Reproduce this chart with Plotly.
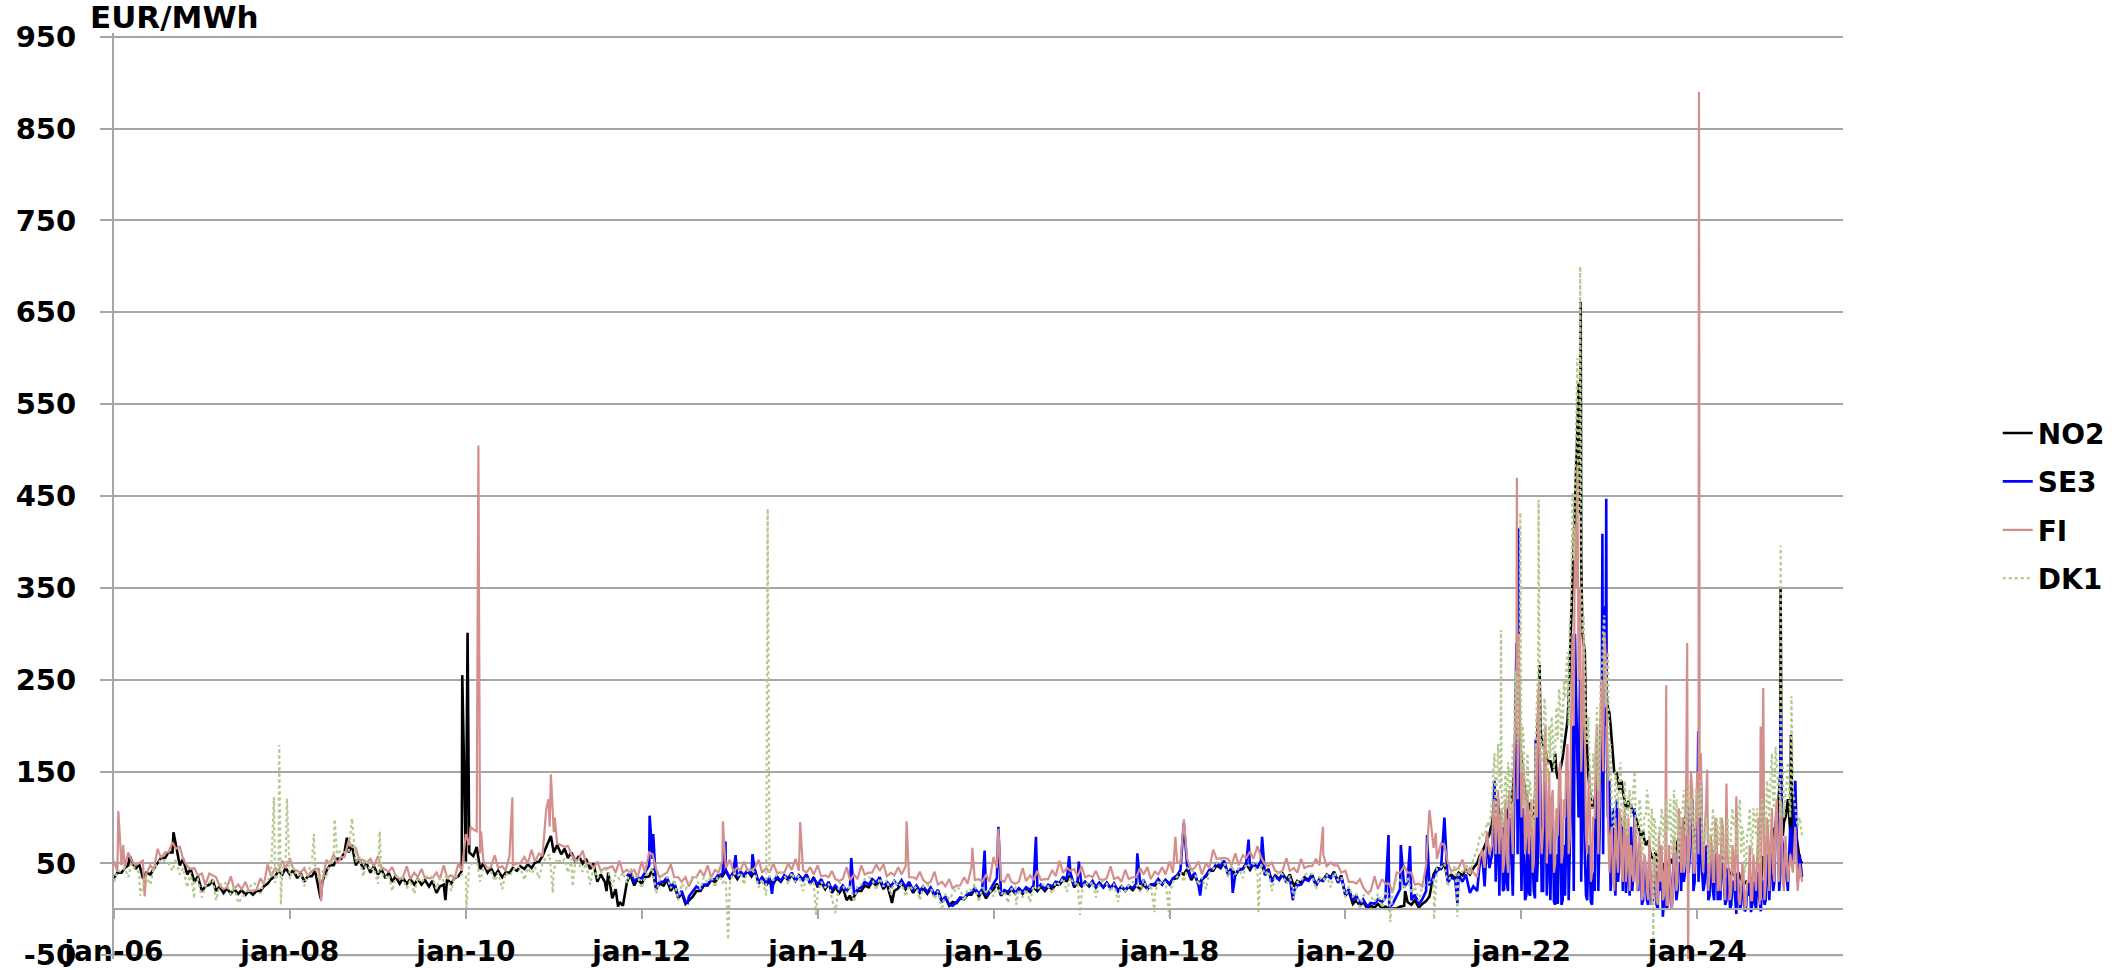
import pandas as pd
import plotly.graph_objects as go

# ---------------- data (EUR/MWh) ----------------
# mid-month levels, Jan 2006 .. Jun 2021
no2_monthly = [
    40, 45, 53, 50, 40, 44, 56, 62, 70, 55, 44, 36,
    25, 32, 25, 23, 22, 21, 20, 20, 25, 33, 42, 45,
    43, 40, 36, 42, 30, 48, 55, 62, 70, 55, 50, 47,
    44, 40, 36, 34, 33, 33, 32, 31, 25, 33, 34, 42,
    62, 68, 50, 45, 42, 40, 45, 47, 49, 51, 58, 78,
    70, 66, 62, 58, 55, 50, 38, 40, 22, 18, 38, 33,
    35, 44, 28, 32, 27, 18, 10, 20, 26, 32, 35, 42,
    40, 39, 42, 42, 35, 32, 34, 36, 38, 37, 38, 35,
    30, 28, 24, 24, 15, 20, 26, 30, 32, 28, 20, 29,
    28, 24, 23, 23, 21, 13, 8, 12, 16, 22, 20, 18,
    28, 20, 22, 22, 22, 24, 25, 25, 27, 32, 37, 30,
    30, 30, 29, 29, 28, 25, 25, 26, 27, 27, 31, 32,
    33, 40, 44, 38, 33, 42, 48, 51, 45, 43, 50, 49,
    52, 44, 37, 39, 38, 31, 35, 38, 33, 38, 41, 37,
    20, 10, 8, 4, 6, 3, 1, 3, 8, 10, 6, 14,
    45, 50, 38, 40, 43, 45,
]
# first-of-month levels (other edge of the daily band), Jan 2006 .. Jun 2021
no2_early = [
    34, 40, 48, 44, 34, 38, 50, 56, 62, 48, 38, 30,
    20, 27, 20, 18, 17, 17, 16, 16, 20, 28, 36, 38,
    38, 34, 30, 36, 20, 42, 48, 55, 62, 48, 44, 40,
    38, 34, 30, 28, 28, 27, 27, 25, 18, 27, 28, 36,
    52, 58, 44, 40, 37, 35, 40, 42, 44, 45, 52, 68,
    62, 60, 56, 52, 50, 44, 30, 30, 12, 8, 30, 26,
    28, 36, 22, 26, 20, 12, 6, 14, 20, 26, 30, 36,
    34, 33, 36, 36, 28, 26, 28, 30, 32, 31, 32, 28,
    24, 22, 18, 18, 10, 14, 20, 24, 26, 22, 12, 23,
    22, 18, 18, 17, 15, 8, 4, 7, 11, 16, 14, 12,
    22, 15, 17, 17, 17, 19, 20, 20, 22, 27, 31, 24,
    25, 25, 24, 24, 23, 20, 20, 21, 22, 22, 26, 27,
    27, 34, 38, 32, 27, 36, 42, 45, 39, 37, 44, 43,
    46, 38, 31, 33, 32, 25, 29, 32, 27, 32, 35, 31,
    15, 6, 4, 1, 2, 1, 0, 1, 4, 5, 2, 9,
    38, 44, 32, 34, 37, 38,
]
# SE3 exists from Nov 2011
se3_monthly = [
    41, 34,
    40, 55, 30, 35, 30, 20, 14, 25, 27, 32, 38, 43,
    40, 41, 43, 43, 35, 35, 36, 37, 40, 37, 38, 34,
    33, 30, 26, 26, 25, 22, 30, 33, 35, 30, 31, 32,
    30, 26, 25, 24, 21, 14, 10, 13, 17, 23, 22, 20,
    34, 21, 24, 23, 24, 26, 27, 27, 30, 35, 40, 31,
    30, 31, 29, 29, 28, 25, 26, 28, 32, 27, 33, 32,
    34, 43, 47, 40, 32, 43, 50, 53, 45, 44, 50, 50,
    52, 43, 36, 38, 35, 26, 33, 37, 32, 37, 40, 35,
    22, 15, 11, 7, 11, 13, 6, 22, 30, 16, 11, 26,
    42, 52, 35, 38, 38, 25,
]
se3_early = [
    36, 30,
    34, 48, 24, 30, 24, 14, 8, 20, 22, 27, 33, 38,
    34, 35, 37, 37, 29, 29, 30, 31, 34, 31, 32, 28,
    27, 24, 21, 21, 20, 16, 24, 27, 29, 24, 25, 26,
    24, 21, 20, 19, 16, 9, 5, 8, 12, 18, 17, 15,
    28, 16, 19, 18, 19, 21, 22, 22, 25, 29, 34, 26,
    25, 26, 24, 24, 23, 20, 21, 23, 27, 22, 28, 27,
    28, 37, 41, 34, 26, 37, 44, 47, 38, 38, 44, 44,
    46, 37, 30, 32, 29, 20, 27, 31, 26, 31, 34, 29,
    16, 10, 6, 3, 6, 8, 2, 15, 24, 10, 6, 20,
    35, 45, 29, 32, 30, 18,
]
fi_monthly = [
    41, 46, 53, 50, 39, 43, 56, 62, 66, 55, 44, 37,
    27, 37, 26, 24, 22, 22, 20, 21, 27, 36, 42, 45,
    44, 40, 36, 44, 30, 49, 50, 57, 68, 54, 51, 47,
    46, 41, 37, 35, 33, 35, 34, 34, 33, 35, 34, 42,
    70, 85, 52, 46, 45, 42, 48, 50, 50, 52, 58, 90,
    72, 68, 60, 55, 50, 45, 42, 45, 40, 40, 40, 35,
    40, 60, 35, 40, 35, 30, 25, 35, 36, 35, 40, 45,
    42, 43, 43, 45, 40, 40, 40, 40, 43, 42, 40, 38,
    36, 35, 33, 33, 32, 33, 38, 40, 42, 36, 37, 38,
    35, 33, 32, 30, 27, 25, 23, 26, 28, 32, 30, 30,
    45, 30, 30, 30, 31, 32, 32, 33, 36, 40, 42, 36,
    35, 35, 33, 34, 33, 30, 33, 35, 38, 33, 38, 38,
    40, 50, 55, 45, 38, 45, 55, 56, 48, 48, 56, 55,
    57, 47, 42, 42, 42, 40, 45, 47, 48, 47, 48, 40,
    30, 28, 24, 20, 22, 28, 18, 40, 40, 27, 25, 40,
    55, 70, 42, 45, 40, 40,
]
fi_early = [
    53, 48, 62, 48, 53, 48, 66, 62, 73, 68, 47, 45,
    39, 39, 35, 22, 36, 27, 30, 21, 34, 49, 45, 53,
    56, 42, 45, 42, 44, 54, 60, 57, 75, 67, 54, 55,
    58, 43, 46, 33, 47, 40, 44, 34, 40, 48, 37, 50,
    82, 87, 61, 44, 59, 47, 58, 50, 57, 65, 61, 110,
    84, 70, 69, 53, 64, 50, 52, 45, 47, 53, 43, 43,
    52, 62, 44, 38, 49, 35, 35, 35, 43, 48, 43, 53,
    54, 45, 52, 43, 54, 45, 50, 40, 50, 55, 43, 46,
    48, 37, 42, 31, 46, 38, 48, 40, 49, 49, 40, 46,
    47, 35, 41, 28, 41, 30, 33, 26, 35, 45, 33, 38,
    57, 32, 39, 28, 45, 37, 42, 33, 43, 53, 45, 44,
    47, 37, 42, 32, 47, 35, 43, 35, 45, 46, 41, 46,
    52, 52, 64, 43, 52, 50, 65, 56, 55, 61, 59, 63,
    69, 49, 51, 40, 56, 45, 55, 47, 55, 60, 51, 48,
    42, 30, 33, 18, 36, 33, 28, 40, 47, 40, 28, 48,
    67, 72, 51, 43, 54, 45,
]
dk1_monthly = [
    42, 45, 50, 40, 35, 45, 55, 50, 55, 45, 40, 33,
    25, 33, 25, 27, 25, 25, 23, 27, 30, 38, 45, 48,
    45, 40, 40, 47, 42, 52, 60, 62, 75, 58, 52, 45,
    40, 38, 35, 33, 32, 35, 35, 35, 35, 38, 36, 38,
    48, 55, 45, 42, 40, 40, 42, 45, 45, 46, 50, 60,
    55, 55, 55, 50, 50, 45, 40, 42, 38, 40, 45, 37,
    35, 45, 32, 35, 32, 28, 28, 35, 35, 36, 40, 32,
    40, 40, 42, 40, 33, 33, 38, 38, 40, 37, 36, 30,
    30, 28, 26, 26, 27, 26, 33, 33, 34, 32, 32, 28,
    26, 25, 25, 24, 20, 17, 17, 22, 22, 28, 24, 22,
    26, 20, 22, 22, 22, 26, 27, 25, 30, 34, 35, 30,
    30, 30, 28, 28, 28, 26, 26, 28, 32, 27, 32, 30,
    30, 40, 45, 40, 35, 40, 50, 52, 48, 45, 50, 50,
    50, 42, 35, 38, 37, 30, 37, 38, 35, 38, 40, 35,
    25, 18, 15, 15, 17, 20, 20, 32, 35, 25, 25, 30,
    45, 50, 40, 45, 50, 55,
]
dk1_early = [
    30, 41, 35, 43, 26, 27, 49, 52, 42, 38, 24, 30,
    13, 29, 10, 30, 16, 7, 17, 29, 17, 31, 29, 45,
    33, 36, 25, 50, 33, 34, 54, 64, 62, 51, 36, 42,
    28, 34, 20, 36, 23, 17, 29, 37, 22, 31, 20, 35,
    36, 51, 30, 45, 31, 22, 36, 47, 32, 39, 34, 57,
    43, 51, 40, 53, 41, 27, 34, 44, 25, 33, 29, 34,
    23, 41, 17, 38, 23, 10, 22, 37, 22, 29, 24, 29,
    28, 36, 27, 43, 24, 15, 32, 40, 27, 30, 20, 27,
    18, 24, 11, 29, 18, 8, 27, 35, 21, 25, 16, 25,
    14, 21, 10, 27, 11, -1, 11, 24, 9, 21, 8, 19,
    14, 16, 7, 25, 13, 8, 21, 27, 17, 27, 19, 27,
    18, 26, 13, 31, 19, 8, 20, 30, 19, 20, 16, 27,
    18, 36, 30, 43, 26, 22, 44, 54, 35, 38, 34, 47,
    38, 38, 20, 41, 28, 12, 31, 40, 22, 31, 24, 32,
    13, 14, 0, 18, 8, 2, 14, 34, 22, 18, 9, 27,
    33, 46, 25, 48, 41, 37,
]

# volatile period: values on the 1st, 11th and 21st of each month, Jul 2021 .. Mar 2025
no2_vol = [
    50, 58, 62, 68, 75, 82, 95, 112, 120, 105, 88, 82, 100, 112, 118, 150, 185, 210,
    165, 140, 118, 115, 105, 98, 150, 210, 195, 180, 172, 160, 162, 150, 170, 142, 152, 165,
    185, 205, 270, 350, 430, 520, 430, 300, 280, 160, 130, 110, 120, 140, 150, 250, 300, 230,
    214, 186, 150, 148, 130, 140, 125, 110, 118, 112, 105, 100, 90, 80, 85, 70, 75, 60,
    55, 62, 50, 45, 50, 40, 48, 55, 50, 60, 75, 55, 85, 100, 95, 90, 80, 75,
    100, 85, 70, 62, 58, 55, 65, 60, 58, 52, 48, 50, 42, 38, 40, 38, 35, 40,
    32, 28, 30, 25, 35, 22, 30, 40, 28, 58, 45, 50, 70, 85, 90, 110, 150, 80,
    100, 120, 85, 75, 90, 70, 55, 50,
]
se3_vol = [
    20, 48, 62, 25, 80, 45, 60, 140, 95, 15, 100, 22, 30, 120, 60, 100, 290, 150,
    20, 60, 15, 18, 80, 20, 185, 60, 120, 20, 150, 55, 10, 100, 5, 6, 120, 10,
    15, 150, 60, 200, 300, 150, 250, 120, 60, 10, 60, 5, 20, 150, 80, 250, 330, 190,
    141, 60, 40, 120, 50, 90, 80, 18, 70, 90, 40, 60, 20, 60, 10, 40, 5, 30,
    10, 50, 0, 20, -8, 40, 5, 35, 15, 60, 20, 70, 90, 40, 110, 60, 120, 30,
    80, 60, 40, 30, 60, 15, 50, 10, 70, 40, 60, 20, 10, 45, 5, 30, -5, 20,
    5, 25, 0, 15, -3, 30, 0, 20, -2, 30, 10, 50, 60, 20, 90, 100, 40, 70,
    60, 20, 90, 50, 140, 30, 60, 35,
]
fi_vol = [
    35, 55, 65, 45, 85, 60, 70, 120, 100, 60, 110, 50, 60, 130, 90, 150, 250, 300,
    100, 150, 80, 60, 120, 50, 180, 230, 90, 90, 200, 80, 60, 130, 50, 80, 160, 60,
    100, 180, 80, 300, 416, 482, 350, 200, 150, 60, 150, 40, 100, 200, 120, 250, 300, 220,
    40, 90, 20, 60, 110, 40, 80, 30, 100, 70, 30, 90, 30, 70, 15, 50, 10, 40,
    20, 45, 5, 30, 10, 60, 5, 40, 10, 60, 30, 90, 100, 50, 130, 70, 130, 40,
    150, 100, 60, 90, 152, 40, 70, 30, 90, 60, 100, 30, 137, 40, 20, 50, 123, 10,
    20, 40, 5, 30, 10, 60, 20, 100, 10, 60, 30, 90, 80, 40, 100, 60, 120, 30,
    80, 30, 60, 40, 90, 20, 50, 30,
]
dk1_vol = [
    65, 78, 82, 80, 95, 90, 120, 170, 150, 140, 100, 115, 110, 150, 140, 180, 250, 280,
    150, 180, 120, 125, 110, 100, 200, 260, 190, 180, 215, 150, 165, 195, 175, 185, 225, 200,
    230, 280, 310, 453, 455, 600, 450, 300, 260, 180, 160, 110, 150, 220, 170, 260, 320, 250,
    140, 110, 90, 130, 150, 100, 110, 90, 120, 100, 130, 90, 80, 110, 60, 100, 120, 80,
    70, 90, 50, 80, 100, 70, 85, 120, 70, 60, 100, 80, 110, 90, 120, 90, 110, 60,
    130, 110, 80, 70, 90, 60, 80, 60, 100, 70, 90, 50, 80, 60, 90, 90, 70, 110,
    60, 80, 50, 90, 70, 110, 80, 60, 100, 110, 80, 130, 150, 120, 177, 130, 100, 150,
    120, 160, 100, 130, 110, 90, 100, 80,
]
# extra days (6th, 16th, 26th of each month), Sep 2021 .. Dec 2024
no2_vol2 = [
    105, 118, 110, 95, 85, 95, 105, 115, 130, 170, 200, 180,
    150, 130, 115, 110, 100, 120, 180, 230, 185, 175, 165, 160, 155, 160, 150, 148, 158, 175,
    195, 230, 300, 400, 470, 550, 380, 290, 200, 145, 120, 115, 130, 145, 200, 280, 260, 220,
    200, 170, 148, 140, 135, 128, 115, 114, 112, 108, 102, 95, 85, 82, 75, 72, 68, 58,
    58, 55, 48, 48, 45, 45, 52, 52, 55, 68, 65, 70, 92, 98, 92, 85, 78, 90,
    92, 78, 65, 60, 56, 60, 62, 59, 55, 50, 49, 45, 40, 39, 38, 36, 38, 35,
    30, 29, 27, 30, 28, 26, 35, 34, 45, 50, 48, 60, 78, 88, 100, 130, 120, 95,
]
se3_vol2 = [
    100, 30, 120, 90, 20, 110, 20, 80, 15, 200, 60, 120,
    110, 10, 90, 15, 60, 12, 30, 200, 20, 130, 15, 100, 80, 8, 60, 90, 5, 70,
    100, 10, 120, 20, 230, 100, 30, 200, 15, 70, 8, 40, 130, 20, 180, 60, 200, 100,
    20, 110, 15, 30, 100, 20, 100, 40, 15, 20, 110, 30, 70, 5, 50, 10, 60, 5,
    40, 5, 60, 50, 10, 0, 50, 0, 60, 10, 80, 20, 30, 120, 40, 110, 20, 90,
    30, 140, 20, 70, 10, 60, 20, 60, 10, 10, 50, 5, 40, 0, 30, 10, 40, 0,
    30, -2, 20, 40, 5, 10, 40, 5, 30, 5, 60, 10, 80, 30, 110, 20, 80, 30,
]
fi_vol2 = [
    110, 60, 130, 100, 40, 120, 40, 120, 60, 220, 120, 200,
    160, 60, 130, 100, 40, 110, 100, 250, 60, 180, 50, 150, 120, 40, 110, 150, 50, 120,
    160, 60, 200, 200, 350, 250, 150, 300, 80, 130, 30, 100, 180, 60, 220, 150, 280, 100,
    80, 30, 100, 40, 100, 30, 110, 50, 20, 40, 100, 20, 80, 10, 60, 20, 80, 5,
    60, 10, 80, 70, 15, 5, 70, 0, 80, 20, 110, 40, 40, 140, 50, 150, 40, 100,
    60, 170, 40, 110, 20, 80, 30, 100, 20, 20, 90, 10, 60, 10, 70, 20, 70, 5,
    50, 0, 30, 70, 10, 40, 60, 5, 150, 10, 100, 20, 110, 30, 120, 30, 110, 20,
]
dk1_vol2 = [
    150, 100, 180, 130, 90, 150, 160, 100, 180, 260, 180, 300,
    200, 110, 170, 140, 90, 150, 230, 300, 160, 230, 140, 200, 210, 150, 220, 240, 170, 250,
    260, 200, 330, 380, 500, 420, 380, 320, 200, 210, 120, 170, 190, 130, 250, 300, 220, 280,
    180, 90, 150, 110, 160, 90, 140, 80, 130, 120, 150, 80, 120, 60, 100, 130, 70, 110,
    100, 40, 90, 110, 60, 120, 100, 60, 130, 120, 50, 110, 130, 80, 140, 120, 70, 130,
    100, 140, 70, 100, 50, 90, 110, 60, 90, 100, 50, 80, 100, 50, 110, 100, 60, 120,
    90, 40, 80, 110, 60, 100, 110, 50, 120, 100, 140, 90, 170, 110, 160, 140, 170, 100,
]

# individual spike / dip days
no2_spike_dates = ["2006-03-08", "2006-09-05", "2008-05-08", "2008-08-25", "2009-10-08",
                   "2009-12-17", "2010-01-08", "2010-12-20", "2011-08-08", "2011-09-25",
                   "2011-10-15", "2014-05-20", "2014-11-05", "2020-09-05", "2022-03-17",
                   "2022-08-26", "2022-09-04", "2024-12-12", "2025-01-24"]
no2_spike_vals = [58, 84, 12, 78, 10, 255, 301, 80, 20, 3, 4, 10, 7, 20, 266, 573, 661, 350, 190]

se3_spike_dates = ["2012-02-03", "2012-02-18", "2012-07-10", "2012-12-14", "2013-01-25",
                   "2013-04-05", "2013-06-25", "2014-05-20", "2015-07-15", "2015-11-25",
                   "2016-01-21", "2016-06-25", "2016-11-10", "2016-12-20", "2017-08-20",
                   "2018-03-01", "2018-05-08", "2018-09-20", "2018-11-25", "2019-01-20",
                   "2019-05-28", "2020-06-28", "2020-08-18", "2020-09-25", "2020-12-05",
                   "2021-02-15", "2021-04-10", "2021-12-19", "2022-12-03", "2022-12-19",
                   "2024-01-05", "2024-12-12"]
se3_spike_vals = [102, 82, 7, 74, 59, 60, 17, 56, 4, 64, 90, 79, 58, 52, 61, 94, 15, 18,
                  76, 79, 10, 81, 70, 69, 81, 100, 7, 415, 409, 447, 194, 214]

fi_spike_dates = ["2006-01-19", "2006-02-08", "2006-05-08", "2008-05-10", "2010-01-20",
                  "2010-02-22", "2010-03-05", "2010-07-13", "2010-12-10", "2010-12-20",
                  "2011-01-05", "2012-12-03", "2013-10-20", "2015-01-05", "2015-10-05",
                  "2016-01-21", "2018-01-25", "2018-03-01", "2019-09-30", "2020-12-15",
                  "2021-01-10", "2021-12-13", "2023-08-25", "2023-11-20", "2023-11-24",
                  "2024-01-08", "2024-09-20", "2024-10-01"]
fi_spike_vals = [107, 70, 14, 9, 90, 505, 85, 122, 120, 147, 100, 96, 95, 96, 67, 88, 79,
                 98, 90, 108, 83, 470, 244, 290, -70, 890, 199, 241]

dk1_spike_dates = ["2006-04-20", "2006-11-30", "2007-06-15", "2007-10-27", "2007-11-18",
                   "2007-11-25", "2007-12-20", "2008-04-10", "2008-07-05", "2008-09-15",
                   "2009-01-08", "2010-01-03", "2010-12-28", "2011-03-20", "2012-12-25",
                   "2013-06-07", "2013-12-25", "2014-03-15", "2015-06-05", "2016-04-04",
                   "2016-12-25", "2017-10-30", "2017-12-31", "2019-01-05", "2020-07-05",
                   "2021-01-03", "2021-04-10", "2021-10-08", "2021-12-27", "2022-03-13",
                   "2022-09-02", "2023-07-02", "2024-12-12", "2025-01-26"]
dk1_spike_vals = [15, 12, 12, 122, 179, 5, 121, 82, 98, 99, 85, 1, 18, 25, -33, 436, -6,
                  -4, 7, 5, -6, -3, -8, -4, -14, -11, -8, 304, 432, 446, 700, -42, 396, 232]

series_names = ["NO2", "SE3", "FI", "DK1"]
y_tick_values = [-50, 50, 150, 250, 350, 450, 550, 650, 750, 850, 950]
tick_text_format = "jan-%y"
y_unit = "EUR/MWh"

# ---------------- date grids ----------------
mid_dates = [f"{y}-{m:02d}-15" for y in range(2006, 2022) for m in range(1, 13)][:186]
early_dates = [f"{y}-{m:02d}-01" for y in range(2006, 2022) for m in range(1, 13)][:186]
vol_months = [(2021, m) for m in range(7, 13)] + \
             [(y, m) for y in (2022, 2023, 2024) for m in range(1, 13)] + \
             [(2025, m) for m in range(1, 4)]
vol_dates = [f"{y}-{m:02d}-{d:02d}" for (y, m) in vol_months for d in (1, 11, 21)]
vol2_months = [(2021, m) for m in range(9, 13)] + \
              [(y, m) for y in (2022, 2023, 2024) for m in range(1, 13)]
vol2_dates = [f"{y}-{m:02d}-{d:02d}" for (y, m) in vol2_months for d in (6, 16, 26)]


def build(*pairs_of_lists):
    pairs = []
    for dts, vals in pairs_of_lists:
        pairs += list(zip(dts, vals))
    s = pd.Series([p[1] for p in pairs], index=pd.to_datetime([p[0] for p in pairs]))
    s = s.groupby(level=0).last().sort_index()
    return s.index, s.values


data = {
    "NO2": build((early_dates, no2_early), (mid_dates, no2_monthly), (vol_dates, no2_vol),
                 (vol2_dates, no2_vol2), (no2_spike_dates, no2_spike_vals)),
    "SE3": build((early_dates[70:], se3_early), (mid_dates[70:], se3_monthly),
                 (vol_dates, se3_vol), (vol2_dates, se3_vol2),
                 (se3_spike_dates, se3_spike_vals)),
    "FI": build((early_dates, fi_early), (mid_dates, fi_monthly), (vol_dates, fi_vol),
                (vol2_dates, fi_vol2), (fi_spike_dates, fi_spike_vals)),
    "DK1": build((early_dates, dk1_early), (mid_dates, dk1_monthly), (vol_dates, dk1_vol),
                 (vol2_dates, dk1_vol2), (dk1_spike_dates, dk1_spike_vals)),
}
styles = {
    "NO2": ("#000000", 2.6, "solid"),
    "SE3": ("#0000FF", 2.6, "solid"),
    "FI": ("#D48E8C", 2.2, "solid"),
    "DK1": ("#B3C98E", 2.2, "dot"),
}

fig = go.Figure()
for name in series_names:
    xs, ys = data[name]
    col, w, dash = styles[name]
    fig.add_trace(go.Scatter(x=xs, y=ys, mode="lines", name=name, legendgroup=name,
                             line=dict(color=col, width=w, dash=dash)))

grid = "#A6A6A6"
ymin, ymax = -54, 954
plot_top, plot_h = 33, 926


def bold(s):
    return dict(family="DejaVu Sans", size=s, color="black", weight="bold")


fig.update_layout(
    width=2126, height=970,
    margin=dict(l=114, r=283, t=plot_top, b=970 - plot_top - plot_h, autoexpand=False),
    plot_bgcolor="white", paper_bgcolor="white",
    font=bold(28),
    showlegend=True,
    legend=dict(x=1.0895, y=0.5947, xanchor="left", yanchor="top",
                font=bold(28), tracegroupgap=9, traceorder="grouped",
                bgcolor="rgba(0,0,0,0)"),
    xaxis=dict(type="date", range=["2006-01-01", "2025-08-28"], automargin=False,
               anchor="free", position=(0 - ymin) / (ymax - ymin),
               showgrid=False, zeroline=False,
               showline=True, linecolor=grid, linewidth=2,
               ticks="outside", ticklen=9, tickwidth=2, tickcolor=grid,
               tick0="2006-01-01", dtick="M24", tickformat=tick_text_format,
               ticklabelstandoff=8, ticklabeloverflow="allow", tickfont=bold(28)),
    yaxis=dict(range=[ymin, ymax], automargin=False,
               tickmode="array", tickvals=y_tick_values,
               ticktext=[str(v) for v in y_tick_values],
               showgrid=True, gridcolor=grid, gridwidth=2, zeroline=False,
               showline=True, linecolor=grid, linewidth=2,
               ticks="outside", ticklen=12, tickwidth=2, tickcolor=grid,
               ticklabelstandoff=18, ticklabeloverflow="allow", tickfont=bold(29)),
    shapes=[dict(type="line", xref="paper", yref="y", x0=0, x1=1,
                 y0=y_tick_values[0], y1=y_tick_values[0],
                 line=dict(color=grid, width=2), layer="below")],
    annotations=[dict(text=y_unit, xref="paper", yref="paper",
                      x=(88 - 114) / 1729, y=(plot_top + plot_h - 17) / plot_h,
                      xanchor="left", yanchor="middle", showarrow=False,
                      font=bold(31))],
)

fig.write_html("out.html",
               config={"displayModeBar": False},
               post_script="document.body.style.margin='0px';"
                           "document.body.style.overflow='hidden';")
